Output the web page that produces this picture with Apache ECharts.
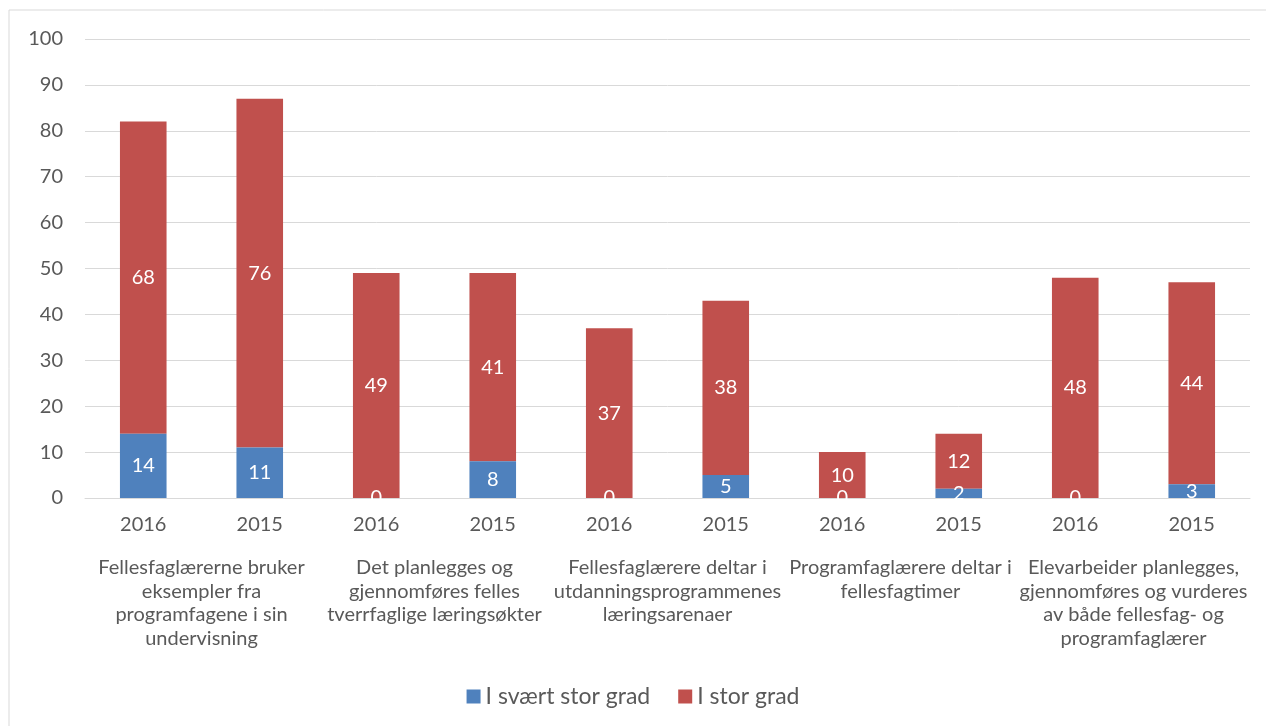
<!DOCTYPE html>
<html>
<head>
<meta charset="utf-8">
<script src="https://cdn.jsdelivr.net/npm/echarts@6/dist/echarts.min.js"></script>
<style>
  html, body { margin: 0; padding: 0; background: #fff; }
  #main { width: 1266px; height: 726px; }
</style>
</head>
<body>
<div id="main"></div>
<script>
var years = ['2016', '2015', '2016', '2015', '2016', '2015', '2016', '2015', '2016', '2015'];
var groups = [
    'Fellesfaglærerne bruker\neksempler fra\nprogramfagene i sin\nundervisning',
    'Det planlegges og\ngjennomføres felles\ntverrfaglige læringsøkter',
    'Fellesfaglærere deltar i\nutdanningsprogrammenes\nlæringsarenaer',
    'Programfaglærere deltar i\nfellesfagtimer',
    'Elevarbeider planlegges,\ngjennomføres og vurderes\nav både fellesfag- og\nprogramfaglærer'
];
var svaertStor = [14, 11, 0, 8, 0, 5, 0, 2, 0, 3];
var stor = [68, 76, 49, 41, 37, 38, 10, 12, 48, 44];
var seriesNames = ['I svært stor grad', 'I stor grad'];

var font = 'Lato, "Open Sans", sans-serif';
var textColor = '#595959';

var chart = echarts.init(document.getElementById('main'));

var barLabel = {
    show: true,
    position: 'inside',
    color: '#fff',
    fontSize: 20,
    fontFamily: font
};

chart.setOption({
    animation: false,
    textStyle: { fontFamily: font },
    graphic: [{
        type: 'rect',
        shape: { x: 9, y: 10, width: 1300, height: 800 },
        style: { fill: 'none', stroke: '#d9d9d9', lineWidth: 1 },
        silent: true
    }],
    grid: { left: 85, right: 16, top: 39, bottom: 228, containLabel: false },
    legend: {
        bottom: 13,
        left: 'center',
        itemWidth: 14,
        itemHeight: 14,
        itemGap: 28,
        icon: 'rect',
        textStyle: { color: textColor, fontSize: 23, fontFamily: font },
        data: seriesNames
    },
    xAxis: [{
        type: 'category',
        data: years,
        position: 'bottom',
        axisLine: { lineStyle: { color: '#d9d9d9' } },
        axisTick: { show: false },
        axisLabel: { color: textColor, fontSize: 20, margin: 17, fontFamily: font }
    }, {
        type: 'category',
        data: groups,
        position: 'bottom',
        offset: 50,
        axisLine: { show: false },
        axisTick: { show: false },
        axisLabel: {
            color: textColor, fontSize: 20, lineHeight: 23.5,
            interval: 0, margin: 8, fontFamily: font, verticalAlign: 'top'
        }
    }],
    yAxis: {
        type: 'value',
        min: 0,
        max: 100,
        interval: 10,
        axisLine: { show: false },
        axisTick: { show: false },
        axisLabel: { color: textColor, fontSize: 20, margin: 22, fontFamily: font },
        splitLine: { lineStyle: { color: '#d9d9d9' } }
    },
    series: [{
        name: seriesNames[0],
        type: 'bar',
        stack: 'total',
        xAxisIndex: 0,
        data: svaertStor,
        barWidth: '40%',
        itemStyle: { color: '#4f81bd' },
        label: barLabel,
        z: 3
    }, {
        name: seriesNames[1],
        type: 'bar',
        stack: 'total',
        xAxisIndex: 0,
        data: stor,
        barWidth: '40%',
        itemStyle: { color: '#c0504d' },
        label: barLabel,
        z: 2
    }]
});
</script>
</body>
</html>
